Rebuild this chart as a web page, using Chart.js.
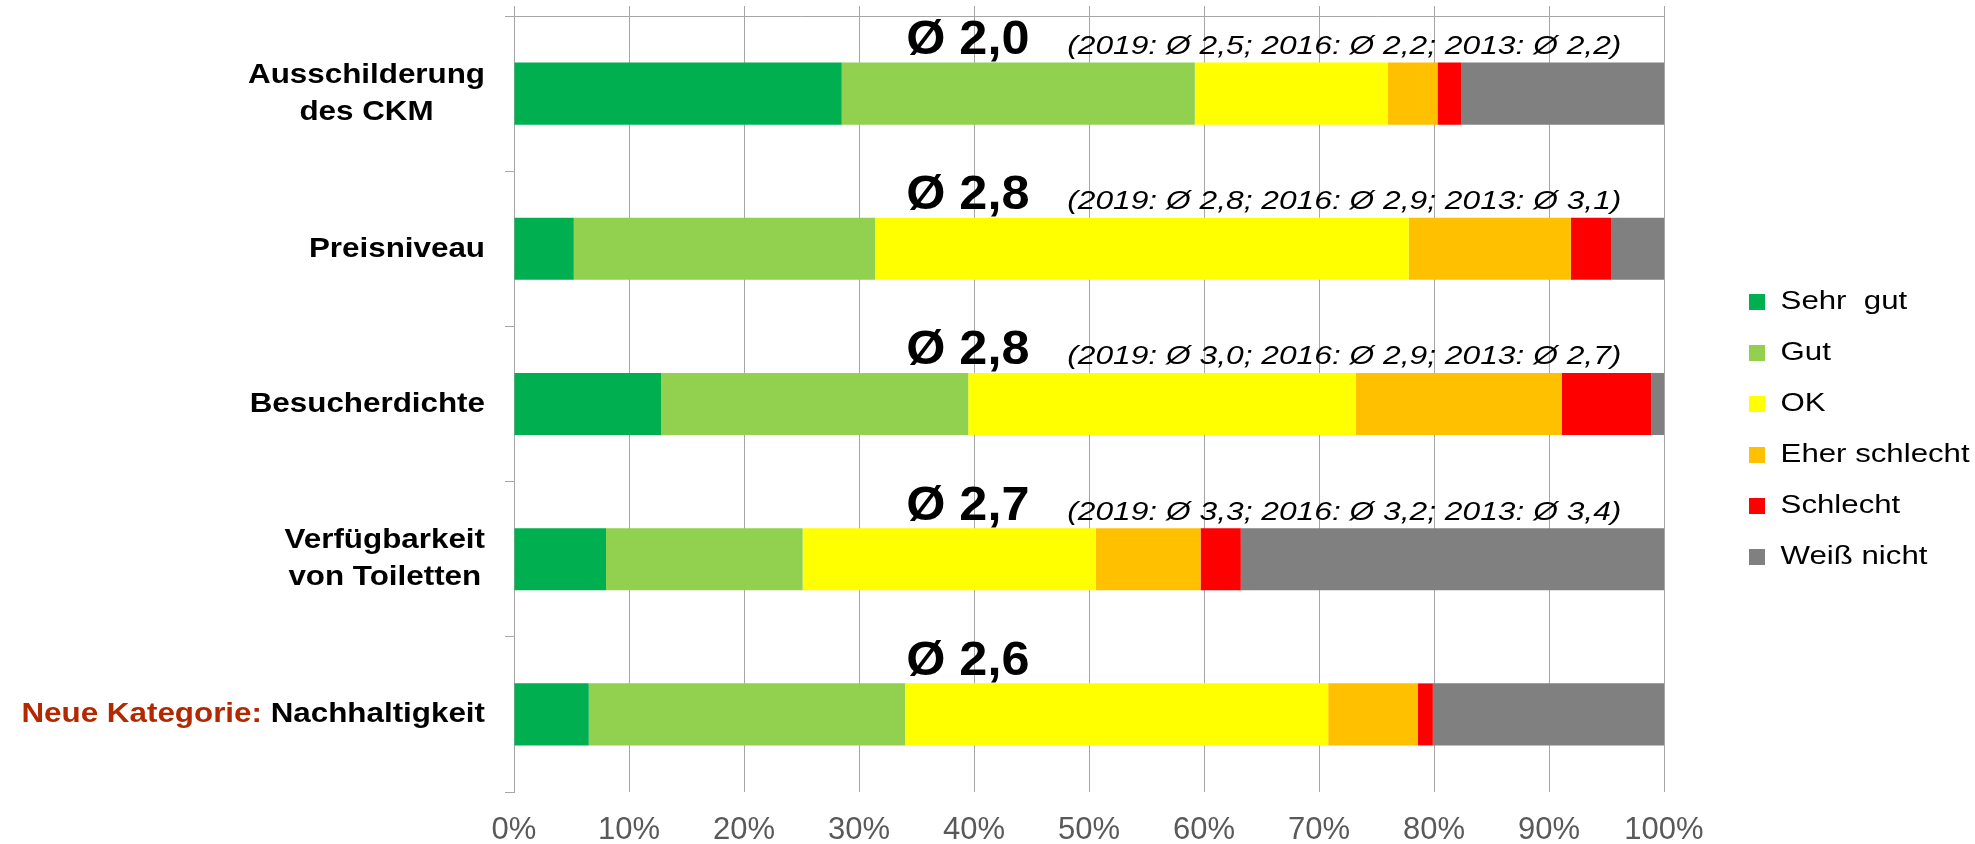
<!DOCTYPE html>
<html lang="de">
<head>
<meta charset="utf-8">
<title>Bewertung</title>
<script src="https://cdn.jsdelivr.net/npm/chart.js@4.4.1/dist/chart.umd.min.js"></script>
<style>
  html, body { margin: 0; padding: 0; background: #fff; }
  #wrap { width: 1975px; height: 844px; }
</style>
</head>
<body>
<div id="wrap"><canvas id="ratingChart" width="1975" height="844"></canvas></div>
<script>
// categories (top to bottom)
const categories = [
  ["Ausschilderung", "des CKM"],
  ["Preisniveau"],
  ["Besucherdichte"],
  ["Verfügbarkeit", "von Toiletten"],
  ["Nachhaltigkeit"],
];
const categoryPrefix = ["", "", "", "", "Neue Kategorie: "];

// shares in percent
const sehrGut = [28.5, 5.2, 12.8, 8.0, 6.5];
const gut = [30.7, 26.2, 26.7, 17.1, 27.5];
const ok = [16.8, 46.4, 33.7, 25.5, 36.8];
const eherSchlecht = [4.3, 14.1, 17.9, 9.1, 7.8];
const schlecht = [2.1, 3.5, 7.8, 3.5, 1.3];
const weissNicht = [17.6, 4.6, 1.1, 36.8, 20.1];

const seriesNames = ["Sehr  gut", "Gut", "OK", "Eher schlecht", "Schlecht", "Weiß nicht"];
const seriesColors = ["#00B050", "#92D050", "#FFFF00", "#FFC000", "#FF0000", "#808080"];

// averages shown above the bars
const avgNow = ["Ø 2,0", "Ø 2,8", "Ø 2,8", "Ø 2,7", "Ø 2,6"];
const avgPrior = [
  "(2019: Ø 2,5; 2016: Ø 2,2; 2013: Ø 2,2)",
  "(2019: Ø 2,8; 2016: Ø 2,9; 2013: Ø 3,1)",
  "(2019: Ø 3,0; 2016: Ø 2,9; 2013: Ø 2,7)",
  "(2019: Ø 3,3; 2016: Ø 3,2; 2013: Ø 3,4)",
  "",
];

const xMin = 0;
const xMax = 100;
const xStep = 10;

const FONT = "'Liberation Sans', Arial, Helvetica, sans-serif";
const GRAY = "#A6A6A6";
const RED = "#B42800";
const LEGEND_SX = 1.2; // text in the original is a bit wide
const LEGEND_PAD = 25;

// draw text stretched horizontally around its anchor
function wideText(ctx, text, x, y, sx) {
  ctx.save();
  ctx.translate(x, y);
  ctx.scale(sx, 1);
  ctx.fillText(text, 0, 0);
  ctx.restore();
}

const legendTweak = {
  id: "legendTweak",
  beforeLayout(chart) {
    const lg = chart.legend;
    if (!lg || lg._tweaked) return;
    lg._tweaked = true;
    const fit = lg.fit;
    lg.fit = function () {
      fit.call(this);
      this.width = 311;
    };
    const draw = lg.draw;
    lg.draw = function (...args) {
      const c = this.ctx;
      c.save();
      c.translate(1749 - LEGEND_SX * LEGEND_PAD - LEGEND_SX * this.left, -8);
      c.scale(LEGEND_SX, 1);
      draw.apply(this, args);
      c.restore();
    };
  },
};

// category labels, lines centered, block right-aligned
const categoryLabels = {
  id: "categoryLabels",
  afterDraw(chart) {
    const { ctx, scales } = chart;
    const y = scales.y;
    const sx = 1.12;
    const right = chart.chartArea.left - 29;
    ctx.save();
    ctx.font = `bold 28px ${FONT}`;
    ctx.textBaseline = "middle";
    categories.forEach((lines, i) => {
      const yc = y.getPixelForValue(i);
      const w = sx * Math.max(...lines.map((l) => ctx.measureText(l).width));
      const cx = right - w / 2;
      ctx.textAlign = "center";
      ctx.fillStyle = "#000";
      lines.forEach((line, k) => {
        wideText(ctx, line, cx, yc + (k - (lines.length - 1) / 2) * 37, sx);
      });
      if (categoryPrefix[i]) {
        ctx.textAlign = "right";
        ctx.fillStyle = RED;
        wideText(ctx, categoryPrefix[i], right - w, yc, sx);
      }
    });
    ctx.restore();
  },
};

// "Ø x,x (2019: ...)" above each bar
const averages = {
  id: "averages",
  afterDatasetsDraw(chart) {
    const { ctx, scales } = chart;
    const x = scales.x;
    const bars = chart.getDatasetMeta(0).data;
    ctx.save();
    ctx.fillStyle = "#000";
    ctx.textAlign = "left";
    ctx.textBaseline = "alphabetic";
    bars.forEach((bar, i) => {
      const base = bar.y - bar.height / 2 - 8.5;
      ctx.font = `bold 48px ${FONT}`;
      wideText(ctx, avgNow[i], x.getPixelForValue(34.1), base, 1.05);
      if (avgPrior[i]) {
        ctx.font = `italic 25px ${FONT}`;
        wideText(ctx, avgPrior[i], x.getPixelForValue(48.1), base, 1.27);
      }
    });
    ctx.restore();
  },
};

const seriesValues = [sehrGut, gut, ok, eherSchlecht, schlecht, weissNicht];

const chart = new Chart(document.getElementById("ratingChart"), {
  type: "bar",
  data: {
    labels: categories.map((c) => c.join(" ")),
    datasets: seriesValues.map((vals, k) => ({
      label: seriesNames[k],
      data: vals,
      backgroundColor: seriesColors[k],
      borderWidth: 0,
      barPercentage: 0.4,
      categoryPercentage: 1.0,
    })),
  },
  options: {
    indexAxis: "y",
    responsive: false,
    animation: false,
    devicePixelRatio: 1,
    layout: { padding: { left: 505, top: 6, right: 0, bottom: -25 } },
    plugins: {
      tooltip: { enabled: false },
      legend: {
        position: "right",
        align: "center",
        labels: {
          boxWidth: 16 / LEGEND_SX,
          boxHeight: 16,
          padding: LEGEND_PAD,
          color: "#000",
          font: { family: FONT, size: 26 },
        },
      },
    },
    scales: {
      x: {
        type: "linear",
        stacked: true,
        min: xMin,
        max: xMax,
        position: "bottom",
        grid: { color: GRAY, lineWidth: 1, drawTicks: false },
        border: { display: false },
        ticks: {
          stepSize: xStep,
          padding: 23,
          color: "#595959",
          font: { family: FONT, size: 31, lineHeight: 1.0 },
          callback: (v) => v + "%",
        },
      },
      xTop: {
        type: "linear",
        min: xMin,
        max: xMax,
        position: "top",
        grid: { color: GRAY, lineWidth: 1, drawOnChartArea: false, drawTicks: true, tickLength: 10 },
        border: { display: true, color: GRAY, width: 1 },
        ticks: { stepSize: xStep, display: false },
      },
      y: {
        stacked: true,
        grid: { color: GRAY, lineWidth: 1, drawOnChartArea: false, drawTicks: true, tickLength: 9, offset: true },
        border: { display: true, color: GRAY, width: 1 },
        ticks: { display: false },
      },
    },
  },
  plugins: [legendTweak, categoryLabels, averages],
});
</script>
</body>
</html>
